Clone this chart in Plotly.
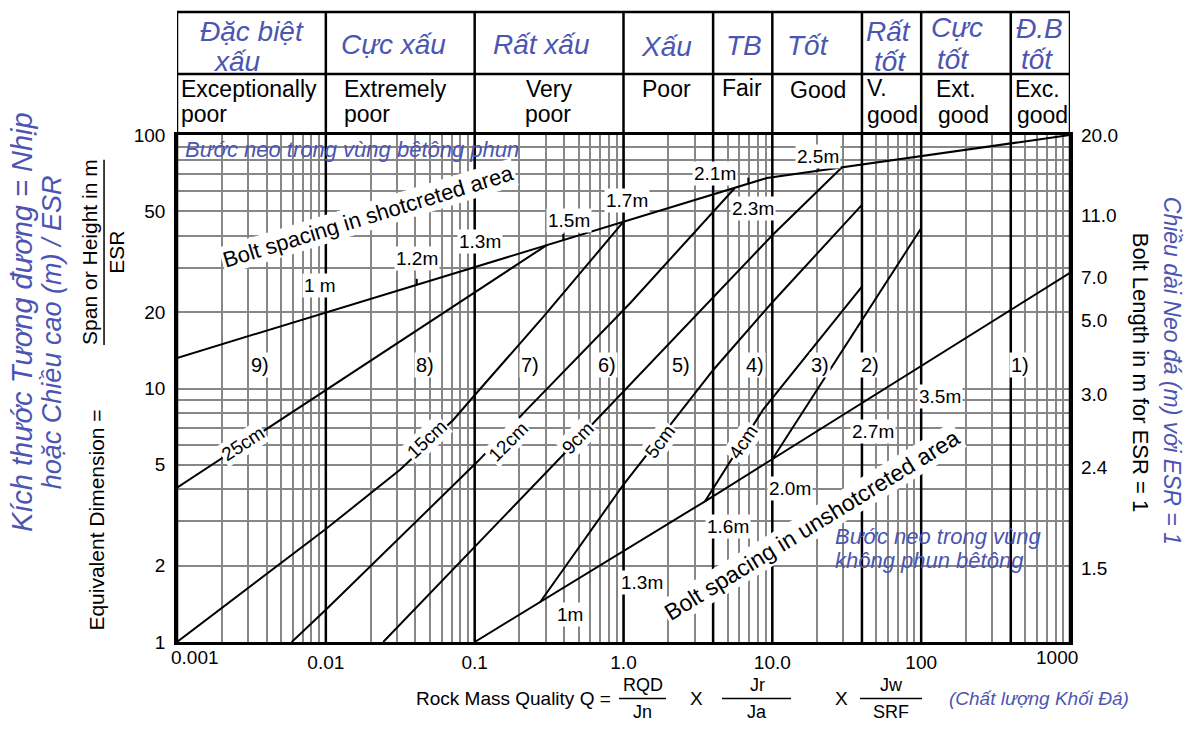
import numpy as np
import plotly.graph_objects as go

FONT = "Liberation Sans, Arial, Helvetica, sans-serif"
BLUE = "#4c55b2"
GRID = "#878787"

# ---------------- data ----------------
# Rock mass quality classes (limits on Q) with Vietnamese / English names
class_bounds = [0.001, 0.01, 0.1, 1, 4, 10, 40, 100, 400, 1000]
class_vi = [["Đặc biệt", "xấu"], ["Cực xấu"], ["Rất xấu"], ["Xấu"], ["TB"], ["Tốt"],
            ["Rất", "tốt"], ["Cực", "tốt"], ["Đ.B", "tốt"]]
class_en = [["Exceptionally", "poor"], ["Extremely", "poor"], ["Very", "poor"], ["Poor"],
            ["Fair"], ["Good"], ["V.", "good"], ["Ext.", "good"], ["Exc.", "good"]]

# Axis ticks
q_ticks = [0.001, 0.01, 0.1, 1, 10, 100, 1000]
q_tick_text = ["0.001", "0.01", "0.1", "1.0", "10.0", "100", "1000"]
ed_ticks = [1, 2, 5, 10, 20, 50, 100]
bolt_len_ed = [100, 48, 27.5, 18.5, 9.5, 4.9, 1.95]
bolt_len_text = ["20.0", "11.0", "7.0", "5.0", "3.0", "2.4", "1.5"]

# Bolt spacing lines (Q, equivalent dimension)
shot_q = [0.001, 9.2, 1000]
shot_ed = [13.2, 67.7, 100]
unshot_q = [0.1, 0.275, 3.53, 1000]
unshot_ed = [1.0, 1.435, 3.59, 28.6]

# Support category boundaries
b25_q, b25_ed = [0.001, 0.305], [4.06, 36.8]
b15_q = [0.001, 0.01, 0.0315, 0.072, 0.103, 0.29, 1.0]
b15_ed = [1.0, 2.79, 4.78, 7.53, 9.6, 19.2, 45.5]
b12_q = [0.0059, 0.01, 0.105, 0.224, 1.107, 5.6]
b12_ed = [1.0, 1.34, 5.16, 8.25, 21.7, 61.8]
b9_q, b9_ed = [0.0243, 0.375, 10.07, 29.3], [1.0, 5.32, 40.4, 74.5]
b5_q, b5_ed = [0.275, 1.0, 4.02, 10.08, 40], [1.435, 4.18, 11.86, 22.0, 53.0]
b4_q, b4_ed = [3.53, 8.67, 40], [3.59, 8.25, 25.2]
b3_q, b3_ed = [10, 100], [5.26, 42.9]

# Bolt spacing labels along the lines
shot_spacing = ["1 m", "1.2m", "1.3m", "1.5m", "1.7m", "2.1m", "2.3m", "2.5m"]
shot_spacing_q = [0.00914, 0.0408, 0.1086, 0.427, 1.05, 4.13, 7.46, 20.4]
shot_spacing_ed = [25.6, 32.7, 38.0, 46.2, 55.4, 70.6, 51.4, 82.1]
shot_tick_q = [0.0408, 0.394, 6.9, 20.4]
unshot_spacing = ["1m", "1.3m", "1.6m", "2.0m", "2.7m", "3.5m"]
unshot_spacing_q = [0.4375, 1.327, 5.07, 13.2, 47.8, 134]
unshot_spacing_ed = [1.284, 1.711, 2.86, 4.05, 6.77, 9.30]
unshot_tick_q = [0.405]

# Shotcrete thickness labels
thick_text = ["25cm", "15cm", "12cm", "9cm", "5cm", "4cm"]
thick_q = [0.00279, 0.0476, 0.1686, 0.498, 1.762, 6.4]
thick_ed = [6.05, 6.28, 6.18, 6.38, 6.18, 6.18]
thick_angle = [-33, -43, -45, -46, -53, -56]

# Support category numbers
region_text = ["9)", "8)", "7)", "6)", "5)", "4)", "3)", "2)", "1)"]
region_q = [0.00361, 0.0465, 0.235, 0.776, 2.44, 7.66, 20.9, 45.4, 463]
region_ed = [12.4] * 9


def log_interp(q, qs, eds):
    return float(10 ** np.interp(np.log10(q), np.log10(qs), np.log10(eds)))


fig = go.Figure()

for qs, eds in [(shot_q, shot_ed), (unshot_q, unshot_ed), (b25_q, b25_ed), (b15_q, b15_ed),
                (b12_q, b12_ed), (b9_q, b9_ed), (b5_q, b5_ed), (b4_q, b4_ed), (b3_q, b3_ed)]:
    fig.add_trace(go.Scatter(x=qs, y=eds, mode="lines", line=dict(color="black", width=2),
                             hoverinfo="skip", showlegend=False))

# keeps the right-hand axis alive
fig.add_trace(go.Scatter(x=[1], y=[10], yaxis="y2", mode="markers", marker=dict(opacity=0),
                         hoverinfo="skip", showlegend=False))

# ---------------- layout geometry ----------------
HEAD_TOP = 1.2424
HEAD_MID = 1.1202
ROW_Y = -0.1113      # formula row under the Q axis
NUM_Y = -0.0857
DEN_Y = -0.1389

x_grid = [m * 10.0 ** d for d in range(-3, 3) for m in range(1, 10)] + [1000]
x_grid_text = []
for v in x_grid:
    lab = ""
    for t, s in zip(q_ticks[1:-1], q_tick_text[1:-1]):
        if abs(v - t) / t < 1e-9:
            lab = s
    x_grid_text.append(lab)
y_grid = [m * 10.0 ** d for d in range(0, 2) for m in range(1, 10)] + [100]
y_grid_text = []
for v in y_grid:
    lab = ""
    for t in ed_ticks:
        if abs(v - t) / t < 1e-9:
            lab = str(t)
    y_grid_text.append(lab)

shapes = []
# class limits, running through the header
for q in class_bounds:
    shapes.append(dict(type="line", xref="x", yref="paper", x0=q, x1=q, y0=0, y1=HEAD_TOP,
                       line=dict(color="black", width=2.5)))
for yy in (HEAD_TOP, HEAD_MID):
    shapes.append(dict(type="line", xref="x", yref="paper", x0=0.001, x1=1000, y0=yy, y1=yy,
                       line=dict(color="black", width=2.5)))
# spacing ticks on the bolt lines
for q in shot_tick_q:
    e = log_interp(q, shot_q, shot_ed)
    shapes.append(dict(type="line", xref="x", yref="y", x0=q, x1=q, ysizemode="pixel",
                       yanchor=e, y0=-6, y1=6, line=dict(color="black", width=2)))
for q in unshot_tick_q:
    e = log_interp(q, unshot_q, unshot_ed)
    shapes.append(dict(type="line", xref="x", yref="y", x0=q, x1=q, ysizemode="pixel",
                       yanchor=e, y0=-12, y1=0, line=dict(color="black", width=2)))
# fraction bars
shapes.append(dict(type="line", xref="paper", yref="paper", x0=-0.0817, x1=-0.0817,
                   y0=0.586, y1=0.951, line=dict(color="black", width=1.5)))
for x0, x1 in [(0.495, 0.5476), (0.6103, 0.6876), (0.7648, 0.8343)]:
    shapes.append(dict(type="line", xref="paper", yref="paper", x0=x0, x1=x1,
                       y0=ROW_Y, y1=ROW_Y, line=dict(color="black", width=1.5)))

ann = []


def data_label(text, q, ed, size=19, angle=0, bg="white"):
    ann.append(dict(x=np.log10(q), y=np.log10(ed), xref="x", yref="y", text=text,
                    showarrow=False, textangle=angle, bgcolor=bg, borderpad=1,
                    font=dict(size=size, family=FONT, color="black")))


def paper_text(text, x, y, size=20, color="black", angle=0, xanchor="center",
               yanchor="middle", xref="paper"):
    ann.append(dict(x=x, y=y, xref=xref, yref="paper", text=text, showarrow=False,
                    textangle=angle, xanchor=xanchor, yanchor=yanchor,
                    font=dict(size=size, family=FONT, color=color)))


for t, q, e in zip(shot_spacing, shot_spacing_q, shot_spacing_ed):
    data_label(t, q, e)
for t, q, e in zip(unshot_spacing, unshot_spacing_q, unshot_spacing_ed):
    data_label(t, q, e)
for t, q, e, a in zip(thick_text, thick_q, thick_ed, thick_angle):
    data_label(t, q, e, angle=a)
for t, q, e in zip(region_text, region_q, region_ed):
    data_label(t, q, e, size=20)

data_label("Bolt spacing in shotcreted area", 0.0192, 47.5, size=22, angle=-17)
data_label("Bolt spacing in unshotcreted area", 18.4, 2.904, size=23, angle=-31.6)

# blue notes inside the chart
ann.append(dict(x=np.log10(0.001), y=np.log10(87.3), xref="x", yref="y", xshift=6,
                xanchor="left", showarrow=False,
                text="<i>Bước neo trong vùng bêtông phun</i>",
                font=dict(size=22, family=FONT, color=BLUE)))
for txt, e in [("Bước neo trong vùng", 2.605), ("không phun bêtông", 2.096)]:
    ann.append(dict(x=np.log10(25.6), y=np.log10(e), xref="x", yref="y", xanchor="left",
                    showarrow=False, text="<i>" + txt + "</i>",
                    font=dict(size=22, family=FONT, color=BLUE)))

# header texts
vi_pos = [[(0.0840, 1.2049), (0.0672, 1.1450)], [(0.2419, 1.1793)], [(0.4087, 1.1793)],
          [(0.5476, 1.1754)], [(0.6349, 1.1774)], [(0.7066, 1.1774)],
          [(0.7973, 1.2049), (0.7984, 1.1440)], [(0.8735, 1.2130), (0.8690, 1.1498)],
          [(0.9653, 1.2108), (0.9630, 1.1498)]]
for lines, pos in zip(class_vi, vi_pos):
    for txt, (xp, yp) in zip(lines, pos):
        paper_text("<i>" + txt + "</i>", xp, yp, size=28, color=BLUE)

en_pos = [[(0.0022, 1.0906, "left"), (0.0022, 1.0414, "left")],
          [(0.1848, 1.0906, "left"), (0.1848, 1.0414, "left")],
          [(0.4166, 1.0906, "center"), (0.4154, 1.0414, "center")],
          [(0.5487, 1.0906, "center")], [(0.6327, 1.0926, "center")],
          [(0.7178, 1.0887, "center")],
          [(0.7704, 1.0926, "left"), (0.7704, 1.0394, "left")],
          [(0.8724, 1.0906, "center"), (0.8802, 1.0394, "center")],
          [(0.9362, 1.0906, "left"), (0.9384, 1.0394, "left")]]
for lines, pos in zip(class_en, en_pos):
    for txt, (xp, yp, anc) in zip(lines, pos):
        paper_text(txt, xp, yp, size=23, xanchor=anc)

# end tick labels of the Q axis
paper_text(q_tick_text[0], np.log10(q_ticks[0]), 0, size=19, xref="x", yanchor="top")
ann[-1]["xshift"] = 18
ann[-1]["yshift"] = -3
paper_text(q_tick_text[-1], np.log10(q_ticks[-1]), 0, size=19, xref="x", yanchor="top")
ann[-1]["xshift"] = -13
ann[-1]["yshift"] = -3

# axis titles
paper_text("<i>Kích thước Tương đương = Nhịp</i>", -0.1736, 0.631, size=29, color=BLUE, angle=-90)
paper_text("<i>hoặc Chiều cao (m) / ESR</i>", -0.140, 0.611, size=27, color=BLUE, angle=-90)
paper_text("Equivalent Dimension =", -0.0896, 0.2414, size=21, angle=-90)
paper_text("Span or Height in m", -0.0974, 0.7695, size=21, angle=-90)
paper_text("ESR", -0.0672, 0.7695, size=21, angle=-90)
paper_text("Bolt Length in m for ESR = 1", 1.0784, 0.533, size=22, angle=90)
paper_text("<i>Chiều dài Neo đá (m) với ESR = 1</i>", 1.1142, 0.535, size=23, color=BLUE, angle=90)

paper_text("Rock Mass Quality Q =", 0.4882, ROW_Y, size=19, xanchor="right")
paper_text("RQD", 0.5213, NUM_Y, size=18)
paper_text("Jn", 0.5213, DEN_Y, size=18)
paper_text("X", 0.5823, ROW_Y, size=19)
paper_text("Jr", 0.6495, NUM_Y, size=18)
paper_text("Ja", 0.6495, DEN_Y, size=18)
paper_text("X", 0.7436, ROW_Y, size=19)
paper_text("Jw", 0.7996, NUM_Y, size=18)
paper_text("SRF", 0.7996, DEN_Y, size=18)
paper_text("<i>(Chất lượng Khối Đá)</i>", 0.8623, ROW_Y, size=19, color=BLUE, xanchor="left")

axis_common = dict(type="log", showgrid=True, gridcolor=GRID, gridwidth=1.5, ticks="",
                   showline=True, mirror=True, linecolor="black", linewidth=2.5,
                   zeroline=False, tickfont=dict(size=19, family=FONT, color="black"))

fig.update_layout(
    width=1194, height=740,
    margin=dict(l=177, r=124, t=135, b=97.5),
    paper_bgcolor="white", plot_bgcolor="white",
    showlegend=False,
    font=dict(family=FONT, color="black"),
    xaxis=dict(range=[-3, 3], tickvals=x_grid, ticktext=x_grid_text, ticklabelstandoff=1,
               **axis_common),
    yaxis=dict(range=[0, 2], tickvals=y_grid, ticktext=y_grid_text, ticklabelstandoff=5,
               **axis_common),
    yaxis2=dict(type="log", range=[0, 2], overlaying="y", side="right", showgrid=False,
                tickvals=bolt_len_ed, ticktext=bolt_len_text, ticks="", showline=False,
                zeroline=False, ticklabelstandoff=10,
                tickfont=dict(size=19, family=FONT, color="black")),
    shapes=shapes,
    annotations=ann,
)

fig.write_html("out.html")
